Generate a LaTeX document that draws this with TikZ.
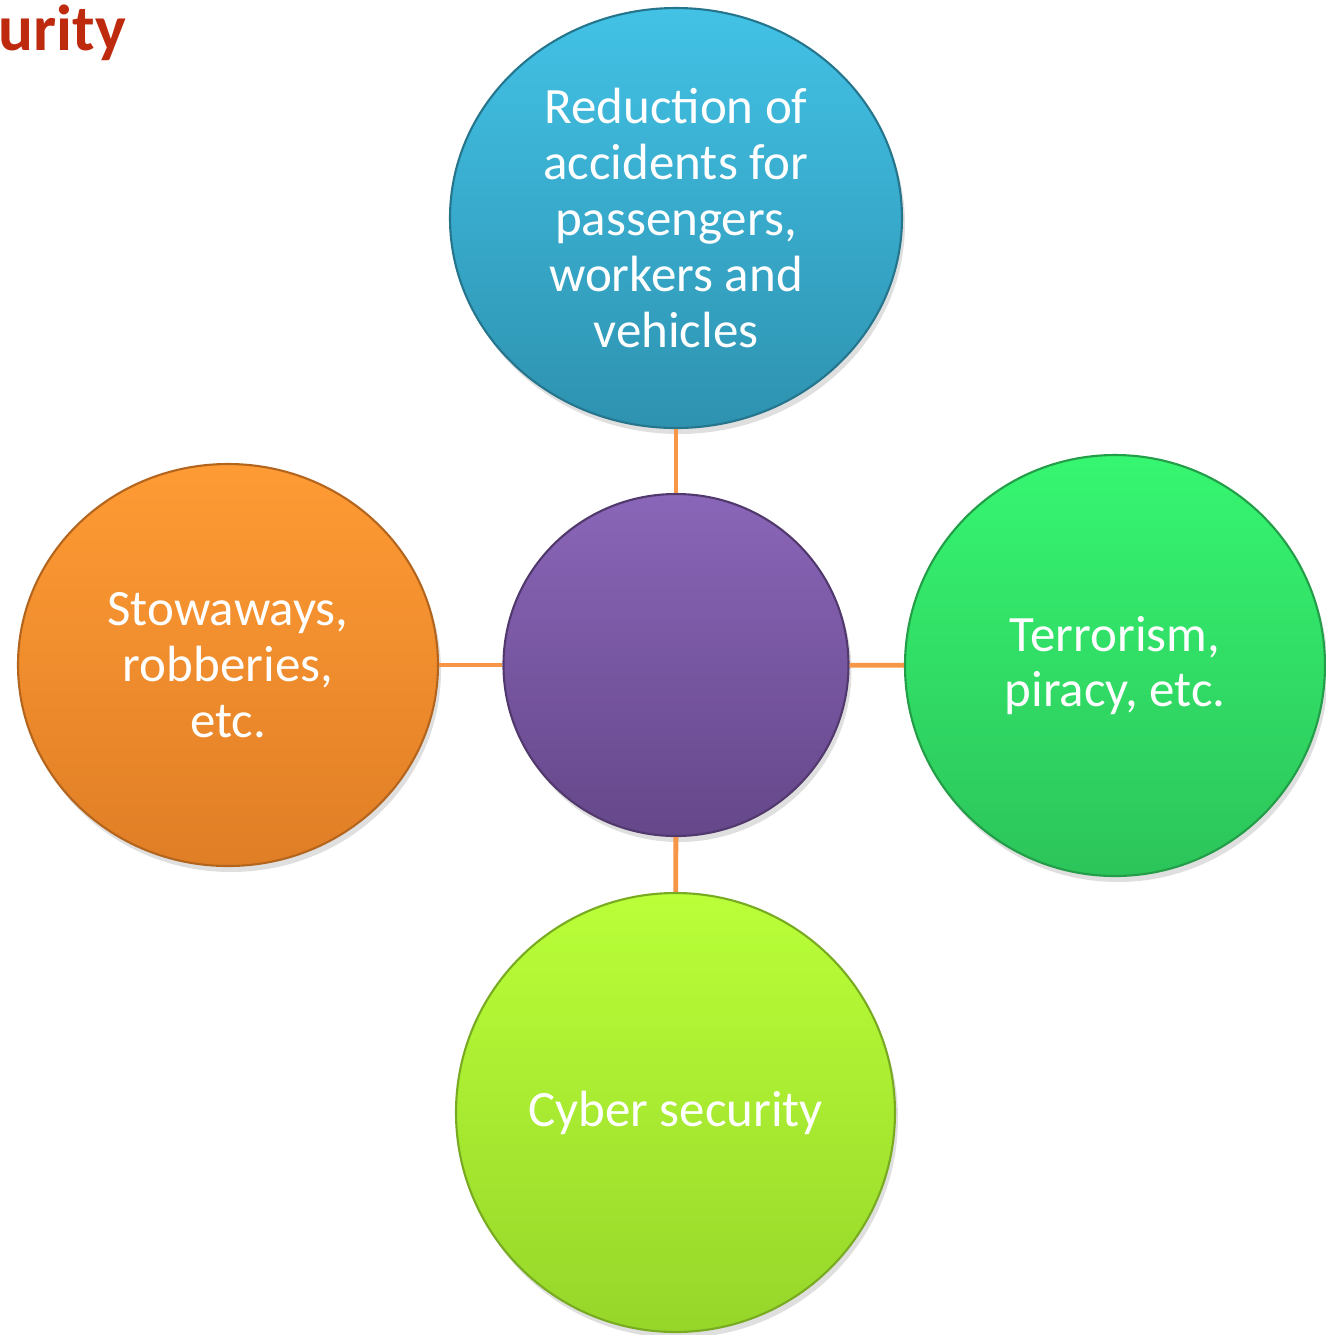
\documentclass[tikz,border=0pt]{standalone}
\usepackage{fontspec}
\setmainfont{Carlito}
\usetikzlibrary{shapes.geometric,shadows}
\definecolor{toptop}{RGB}{66,194,230}
\definecolor{topbot}{RGB}{46,146,176}
\definecolor{hubtop}{RGB}{138,102,184}
\definecolor{hubbot}{RGB}{101,71,138}
\definecolor{lefttop}{RGB}{255,155,52}
\definecolor{leftbot}{RGB}{224,126,38}
\definecolor{righttop}{RGB}{54,246,113}
\definecolor{rightbot}{RGB}{44,196,90}
\definecolor{bottop}{RGB}{186,255,56}
\definecolor{botbot}{RGB}{150,214,42}
\definecolor{linkorange}{RGB}{247,150,70}
\definecolor{secred}{RGB}{190,42,14}
\tikzset{%
  bubble/.style={ellipse,draw=#1bot!80!black,line width=0.6pt,top color=#1top,bottom color=#1bot,
    drop shadow={opacity=0.25,shadow xshift=0.03cm,shadow yshift=-0.06cm},
    text=white,align=center,inner sep=0,font=\fontsize{14.5}{15.9}\selectfont},
  link/.style={draw=linkorange,line width=1.4pt}
}
\begin{document}
\begin{tikzpicture}
  \useasboundingbox (0,0) rectangle (13.26,-13.35);
  \node[anchor=base west,inner sep=0,text=secred,font=\bfseries\fontsize{18.5}{20}\selectfont] (title) at (-0.02,-0.5) {urity};
  \node[bubble=top,minimum width=4.52cm,minimum height=4.2cm] (acc) at (6.76,-2.18)
    {Reduction of\\accidents for\\passengers,\\workers and\\vehicles};
  \node[bubble=hub,minimum width=3.45cm,minimum height=3.42cm] (hub) at (6.76,-6.65) {};
  \node[bubble=left,minimum width=4.2cm,minimum height=4.02cm] (stow) at (2.28,-6.65)
    {Stowaways,\\robberies,\\etc.};
  \node[bubble=right,minimum width=4.2cm,minimum height=4.21cm] (terr) at (11.15,-6.655)
    {Terrorism,\\piracy, etc.};
  \node[bubble=bot,minimum width=4.39cm,minimum height=4.39cm] (cyber) at (6.755,-11.125)
    {Cyber security};
  \draw[link] (acc) -- (hub);
  \draw[link] (hub) -- (stow);
  \draw[link] (hub) -- (terr);
  \draw[link] (hub) -- (cyber);
\end{tikzpicture}
\end{document}
